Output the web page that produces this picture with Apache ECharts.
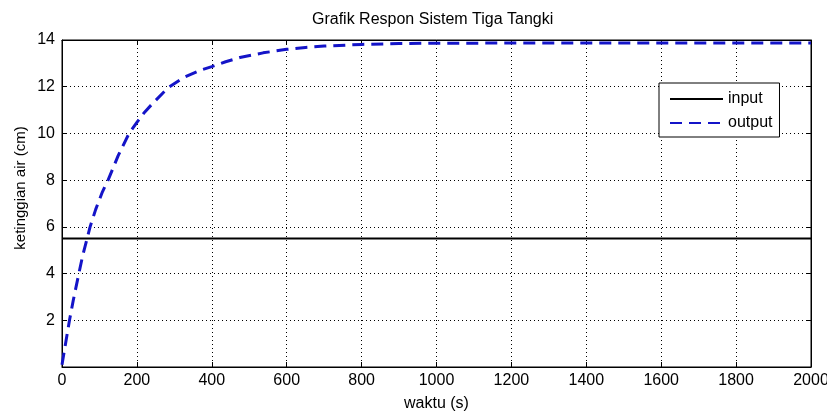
<!DOCTYPE html>
<html>
<head>
<meta charset="utf-8">
<script src="https://cdn.jsdelivr.net/npm/echarts@6/dist/echarts.min.js"></script>
<style>
html,body{margin:0;padding:0;background:#fff;}
#c{width:827px;height:414px;}
</style>
</head>
<body>
<div id="c"></div>
<script>
// ---- data ----
const titleText = 'Grafik Respon Sistem Tiga Tangki';
const xAxisName = 'waktu (s)';
const yAxisName = 'ketinggian air (cm)';
const seriesNames = ['input', 'output'];
const xTickMin = 0, xTickMax = 2000, xTickStep = 200;
const yTickMin = 0, yTickMax = 14, yTickStep = 2;

const inputTime = [0, 2000];
const inputCm   = [5.5, 5.5];

const outputTime = [0, 10, 20, 30, 45, 55, 67, 75, 90, 108, 123, 150, 179, 200, 220, 243, 283, 323, 372, 400,
                    437, 475, 537, 600, 650, 700, 800, 900, 1000, 1200, 1400, 1600, 1800, 2000];
const outputCm   = [0.1, 1.05, 2.0, 2.85, 4.0, 4.75, 5.5, 6.0, 6.75, 7.5, 8.0, 9.05, 10.0, 10.47, 10.9, 11.3, 11.95, 12.38, 12.72, 12.86,
                    13.07, 13.25, 13.45, 13.6, 13.68, 13.74, 13.81, 13.85, 13.86, 13.87, 13.87, 13.87, 13.87, 13.87];

const zip = (a, b) => a.map((v, i) => [v, b[i]]);
const FONT = 'Liberation Sans';

const chart = echarts.init(document.getElementById('c'), null, {renderer: 'canvas'});

const gridDots = {show: true, lineStyle: {color: '#000', width: 1, type: [1, 3]}};
const axisBase = {
  axisLine: {show: true, onZero: false, lineStyle: {color: '#000', width: 1}},
  axisTick: {show: true, inside: true, length: 5, lineStyle: {color: '#000', width: 1}}
};

chart.setOption({
  animation: false,
  backgroundColor: '#fff',
  title: {
    text: titleText,
    left: 307, top: 7,
    textStyle: {fontFamily: FONT, fontSize: 16, fontWeight: 'normal', color: '#000'}
  },
  grid: {left: 62, right: 16, top: 40, bottom: 47, containLabel: false, outerBoundsMode: 'none',
         show: true, borderColor: '#000', borderWidth: 1, backgroundColor: 'transparent'},
  legend: {
    data: seriesNames,
    orient: 'vertical',
    left: 659, top: 83,
    padding: [8, 7, 6, 10],
    itemWidth: 53, itemHeight: 16, itemGap: 8,
    itemStyle: {opacity: 0},
    backgroundColor: '#fff', borderColor: '#000', borderWidth: 1, borderRadius: 0,
    textStyle: {fontFamily: FONT, fontSize: 16, color: '#000', lineHeight: 16}
  },
  xAxis: [
    Object.assign({
      type: 'value', min: xTickMin, max: xTickMax, interval: xTickStep, position: 'bottom',
      name: xAxisName, nameLocation: 'middle', nameGap: 29,
      nameTextStyle: {fontFamily: FONT, fontSize: 16, color: '#000'},
      axisLabel: {fontFamily: FONT, fontSize: 16, color: '#000', margin: 6, showMinLabel: true, showMaxLabel: true,
                  formatter: v => String(v)},
      splitLine: gridDots
    }, axisBase),
    Object.assign({
      type: 'value', min: xTickMin, max: xTickMax, interval: xTickStep, position: 'top',
      axisLabel: {show: false}, splitLine: {show: false}
    }, axisBase)
  ],
  yAxis: [
    Object.assign({
      type: 'value', min: yTickMin, max: yTickMax, interval: yTickStep, position: 'left',
      axisLabel: {fontFamily: FONT, fontSize: 16, color: '#000', margin: 7,
                  formatter: v => (v === 0 ? '' : String(v))},
      splitLine: gridDots
    }, axisBase),
    Object.assign({
      type: 'value', min: yTickMin, max: yTickMax, interval: yTickStep, position: 'right',
      axisLabel: {show: false}, splitLine: {show: false}
    }, axisBase)
  ],
  graphic: [{
    type: 'text',
    x: 21, y: 188,
    rotation: Math.PI / 2,
    style: {text: yAxisName, fontFamily: FONT, fontSize: 15, fill: '#000',
            align: 'center', verticalAlign: 'middle', textAlign: 'center', textVerticalAlign: 'middle'}
  }],
  series: [
    {
      name: seriesNames[0], type: 'line', xAxisIndex: 0, yAxisIndex: 0,
      data: zip(inputTime, inputCm),
      symbol: 'none', color: '#000',
      lineStyle: {color: '#000', width: 2, type: 'solid'},
      z: 3
    },
    {
      name: seriesNames[1], type: 'line', xAxisIndex: 0, yAxisIndex: 0,
      data: zip(outputTime, outputCm),
      symbol: 'none', color: '#1414c8',
      lineStyle: {color: '#1414c8', width: 3, type: [12, 7]},
      z: 4
    }
  ]
});
</script>
</body>
</html>
